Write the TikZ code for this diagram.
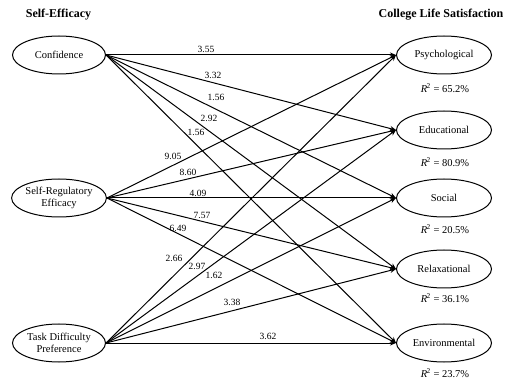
\documentclass[tikz,border=0pt]{standalone}
\usepackage{fontspec}
\setmainfont{Liberation Serif}
\usetikzlibrary{shapes.geometric,arrows.meta}
\begin{document}
\begin{tikzpicture}[x=1pt,y=-1pt,
  lat/.style={ellipse,draw,line width=1pt,minimum width=93pt,minimum height=38pt,inner sep=0pt,align=center,font=\fontsize{10.5}{11.5}\selectfont},
  dep/.style={lat,minimum width=95pt},
  path/.style={line width=1pt,-{Stealth[length=6pt,width=5pt]}},
  coef/.style={font=\fontsize{9.5}{10}\selectfont,inner sep=0pt},
  rsq/.style={font=\fontsize{10.5}{11.5}\selectfont,inner sep=0pt},
  ttl/.style={font=\fontsize{12}{13}\selectfont\bfseries,inner sep=0pt}]
\useasboundingbox (0,0) rectangle (514,379);
\node[ttl] (t1) at (58.5,15) {Self-Efficacy};
\node[ttl] (t2) at (441,15) {College Life Satisfaction};

\node[lat] (conf) at (59,55) {Confidence};
\node[lat] (sre) at (59,198) {Self-Regulatory\\Efficacy};
\node[lat] (tdp) at (59,343) {Task Difficulty\\Preference};

\node[dep] (psy) at (444,55) {Psychological};
\node[dep] (edu) at (444,130) {Educational};
\node[dep] (soc) at (444,198) {Social};
\node[dep] (rel) at (444,269) {Relaxational};
\node[dep] (env) at (444,343) {Environmental};

\node[rsq] (r1) at (445,88) {\textit{R}\kern-0.5pt\textsuperscript{2} = 65.2\%};
\node[rsq] (r2) at (445,162) {\textit{R}\kern-0.5pt\textsuperscript{2} = 80.9\%};
\node[rsq] (r3) at (445,229) {\textit{R}\kern-0.5pt\textsuperscript{2} = 20.5\%};
\node[rsq] (r4) at (445,298) {\textit{R}\kern-0.5pt\textsuperscript{2} = 36.1\%};
\node[rsq] (r5) at (445,373) {\textit{R}\kern-0.5pt\textsuperscript{2} = 23.7\%};

\foreach \s in {conf,sre,tdp}{
  \foreach \d in {psy,edu,soc,rel,env}{
    \draw[path] (\s.east) -- (\d.west);
  }
}

\node[coef] (c1) at (206,49) {3.55};
\node[coef] (c2) at (213,75) {3.32};
\node[coef] (c3) at (216,97) {1.56};
\node[coef] (c4) at (209,118) {2.92};
\node[coef] (c5) at (196,132) {1.56};
\node[coef] (c6) at (173,156) {9.05};
\node[coef] (c7) at (188,172) {8.60};
\node[coef] (c8) at (198,193) {4.09};
\node[coef] (c9) at (202,215) {7.57};
\node[coef] (c10) at (178,228) {6.49};
\node[coef] (c11) at (174,258) {2.66};
\node[coef] (c12) at (197,266) {2.97};
\node[coef] (c13) at (214,275) {1.62};
\node[coef] (c14) at (232,302) {3.38};
\node[coef] (c15) at (268,336) {3.62};
\end{tikzpicture}
\end{document}
